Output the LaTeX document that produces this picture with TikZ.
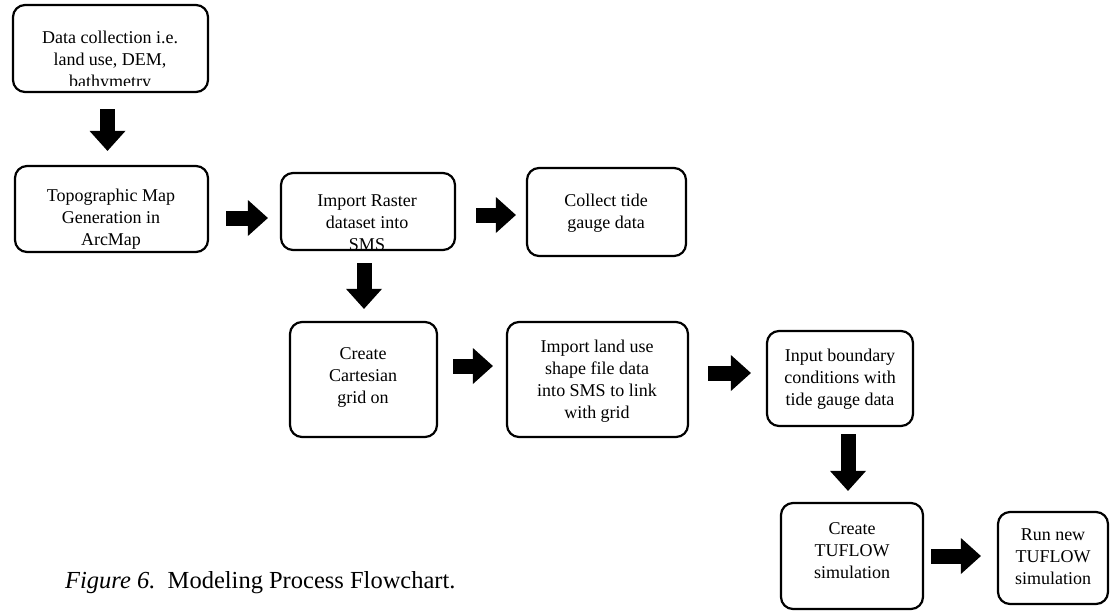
\documentclass[tikz,border=0pt]{standalone}
\usepackage{fontspec}
\setmainfont{Liberation Serif}
\usetikzlibrary{arrows.meta}
\tikzset{
  box/.style={draw=black, line width=2.2pt, rounded corners=12pt, rectangle, inner sep=0pt},
  txt/.style={align=center, inner sep=0pt, font=\fontsize{18}{22}\selectfont},
  blk/.style={draw=black, line width=15pt, -{Triangle[length=20pt,width=36pt,line width=0pt]}},
}
\begin{document}
\begin{tikzpicture}[x=1pt,y=-1pt]
\useasboundingbox[fill=white] (0,0) rectangle (1113,614);
% boxes
\node[box, minimum width=195pt, minimum height=87pt] (b1) at (110.5,48.5) {};
\node[box, minimum width=193pt, minimum height=86pt] (b2) at (111.5,209) {};
\node[box, minimum width=174pt, minimum height=77pt] (b3) at (368,211.5) {};
\node[box, minimum width=159pt, minimum height=88pt] (b4) at (606.5,212) {};
\node[box, minimum width=147pt, minimum height=115pt] (b5) at (363.5,379.5) {};
\node[box, minimum width=181pt, minimum height=115pt] (b6) at (597.5,379.5) {};
\node[box, minimum width=146pt, minimum height=95pt] (b7) at (840,378.5) {};
\node[box, minimum width=142pt, minimum height=106pt] (b8) at (852,556) {};
\node[box, minimum width=110pt, minimum height=92pt] (b9) at (1053,558) {};
% texts
\begin{scope}
\clip (12,6) rectangle (208,85.5);
\node[txt] (t1) at (110,61) {Data collection i.e.\\land use, DEM,\\bathymetry};
\end{scope}
\node[txt] (t2) at (111,219) {Topographic Map\\Generation in\\ArcMap};
\node[txt] (t3) at (367,223) {Import Raster\\dataset into\\SMS};
\node[txt] (t4) at (606,213) {Collect tide\\gauge data};
\node[txt] (t5) at (363,377) {Create\\Cartesian\\grid on};
\node[txt] (t6) at (597,381) {Import land use\\shape file data\\into SMS to link\\with grid};
\node[txt] (t7) at (840,379) {Input boundary\\conditions with\\tide gauge data};
\node[txt] (t8) at (852,551) {Create\\TUFLOW\\simulation};
\node[txt] (t9) at (1053,557) {Run new\\TUFLOW\\simulation};
% arrows
\draw[blk, shorten <=16pt, shorten >=14pt] ([xshift=-3pt]b1.south) -- ([xshift=-3pt]b1.south |- b2.north);
\draw[blk, shorten <=17pt, shorten >=12pt] ([yshift=-9pt]b2.east) -- ([yshift=-9pt]b2.east -| b3.west);
\draw[blk, shorten <=20pt, shorten >=10pt] ([yshift=-3.5pt]b3.east) -- ([yshift=-3.5pt]b3.east -| b4.west);
\draw[blk, shorten <=12pt, shorten >=12pt] ([xshift=-4pt]b3.south) -- ([xshift=-4pt]b3.south |- b5.north);
\draw[blk, shorten <=15pt, shorten >=13pt] ([yshift=13.5pt]b5.east) -- ([yshift=13.5pt]b5.east -| b6.west);
\draw[blk, shorten <=19pt, shorten >=15pt] ([yshift=6.5pt]b6.east) -- ([yshift=6.5pt]b6.east -| b7.west);
\draw[blk, shorten <=7pt, shorten >=11pt] ([xshift=8pt]b7.south) -- ([xshift=8pt]b7.south |- b8.north);
\draw[blk, shorten <=7pt, shorten >=16pt] (b8.east) -- (b8.east -| b9.west);
% caption
\node[anchor=west, inner sep=0pt, font=\fontsize{24.5}{28}\selectfont] (cap) at (65,583) {\textit{Figure 6.}\ \ Modeling Process Flowchart.};
\end{tikzpicture}
\end{document}
